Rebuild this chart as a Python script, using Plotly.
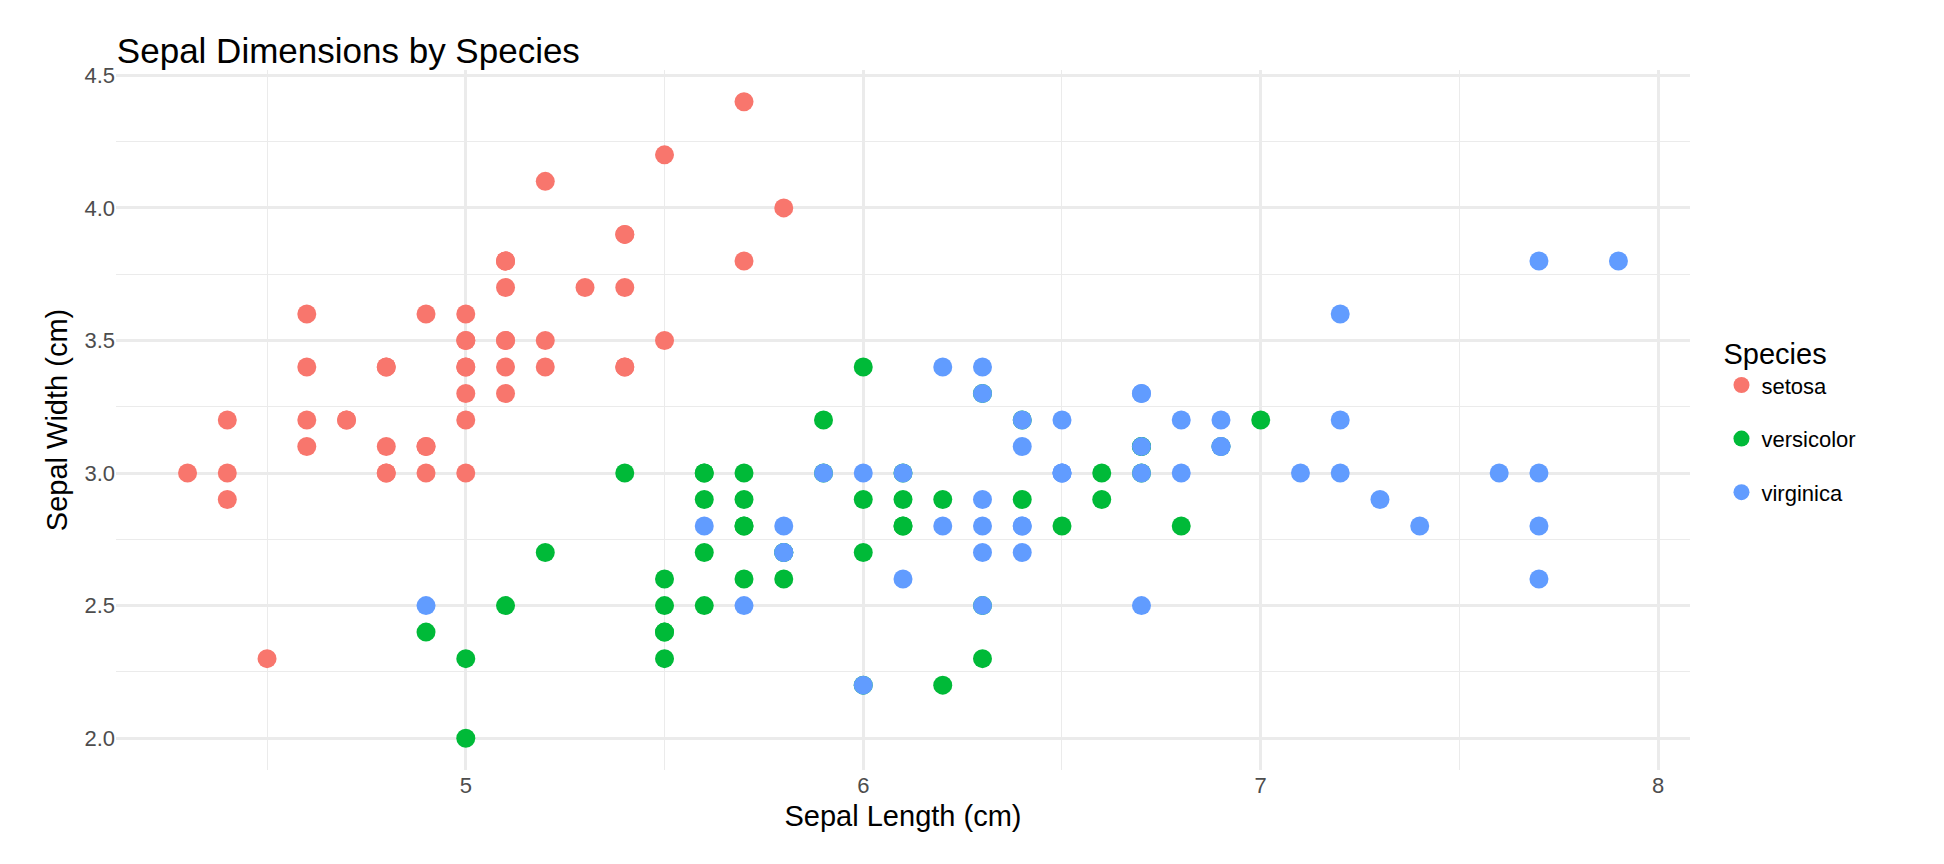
import plotly.graph_objects as go

species = ["setosa", "versicolor", "virginica"]
colors = ["#F8766D", "#00BA38", "#619CFF"]

setosa_len = [5.1,4.9,4.7,4.6,5.0,5.4,4.6,5.0,4.4,4.9,5.4,4.8,4.8,4.3,5.8,5.7,5.4,5.1,5.7,5.1,5.4,5.1,4.6,5.1,4.8,5.0,5.0,5.2,5.2,4.7,4.8,5.4,5.2,5.5,4.9,5.0,5.5,4.9,4.4,5.1,5.0,4.5,4.4,5.0,5.1,4.8,5.1,4.6,5.3,5.0]
setosa_wid = [3.5,3.0,3.2,3.1,3.6,3.9,3.4,3.4,2.9,3.1,3.7,3.4,3.0,3.0,4.0,4.4,3.9,3.5,3.8,3.8,3.4,3.7,3.6,3.3,3.4,3.0,3.4,3.5,3.4,3.2,3.1,3.4,4.1,4.2,3.1,3.2,3.5,3.6,3.0,3.4,3.5,2.3,3.2,3.5,3.8,3.0,3.8,3.2,3.7,3.3]
versi_len = [7.0,6.4,6.9,5.5,6.5,5.7,6.3,4.9,6.6,5.2,5.0,5.9,6.0,6.1,5.6,6.7,5.6,5.8,6.2,5.6,5.9,6.1,6.3,6.1,6.4,6.6,6.8,6.7,6.0,5.7,5.5,5.5,5.8,6.0,5.4,6.0,6.7,6.3,5.6,5.5,5.5,6.1,5.8,5.0,5.6,5.7,5.7,6.2,5.1,5.7]
versi_wid = [3.2,3.2,3.1,2.3,2.8,2.8,3.3,2.4,2.9,2.7,2.0,3.0,2.2,2.9,2.9,3.1,3.0,2.7,2.2,2.5,3.2,2.8,2.5,2.8,2.9,3.0,2.8,3.0,2.9,2.6,2.4,2.4,2.7,2.7,3.0,3.4,3.1,2.3,3.0,2.5,2.6,3.0,2.6,2.3,2.7,3.0,2.9,2.9,2.5,2.8]
virg_len = [6.3,5.8,7.1,6.3,6.5,7.6,4.9,7.3,6.7,7.2,6.5,6.4,6.8,5.7,5.8,6.4,6.5,7.7,7.7,6.0,6.9,5.6,7.7,6.3,6.7,7.2,6.2,6.1,6.4,7.2,7.4,7.9,6.4,6.3,6.1,7.7,6.3,6.4,6.0,6.9,6.7,6.9,5.8,6.8,6.7,6.7,6.3,6.5,6.2,5.9]
virg_wid = [3.3,2.7,3.0,2.9,3.0,3.0,2.5,2.9,2.5,3.6,3.2,2.7,3.0,2.5,2.8,3.2,3.0,3.8,2.6,2.2,3.2,2.8,2.8,2.7,3.3,3.2,2.8,3.0,2.8,3.0,2.8,3.8,2.8,2.8,2.6,3.0,3.4,3.1,3.0,3.1,3.1,3.1,2.7,3.2,3.3,3.0,2.5,3.0,3.4,3.0]

lengths = [setosa_len, versi_len, virg_len]
widths = [setosa_wid, versi_wid, virg_wid]

fig = go.Figure()
for name, col, xs, ys in zip(species, colors, lengths, widths):
    fig.add_trace(go.Scatter(x=xs, y=ys, mode="markers", name=name, legendgroup=name,
                             marker=dict(color=col, size=19, line=dict(width=0))))

grid = "#EBEBEB"
fig.update_layout(
    width=1944, height=864,
    paper_bgcolor="white", plot_bgcolor="white",
    font=dict(family="Liberation Sans, Arial", color="#000000"),
    title=dict(text="Sepal Dimensions by Species", x=0.056, xanchor="left", y=0.965,
               font=dict(size=35)),
    margin=dict(l=108, r=262, t=62, b=102),
    legend=dict(title=dict(text="Species", font=dict(size=29)), font=dict(size=22),
                x=1.02, y=0.5, yanchor="middle", traceorder="grouped", tracegroupgap=22,
                itemsizing="trace"),
    xaxis=dict(title=dict(text="Sepal Length (cm)", font=dict(size=29), standoff=8),
               range=[4.12, 8.08], tickvals=[5, 6, 7, 8], showline=False, zeroline=False,
               gridcolor=grid, gridwidth=2.5, ticks="", tickfont=dict(size=22, color="#4D4D4D"),
               minor=dict(tickvals=[4.5, 5.5, 6.5, 7.5], showgrid=True, gridcolor=grid, gridwidth=1.2)),
    yaxis=dict(title=dict(text="Sepal Width (cm)", font=dict(size=29), standoff=8),
               range=[1.88, 4.52], tickvals=[2.0, 2.5, 3.0, 3.5, 4.0, 4.5],
               ticktext=["2.0", "2.5", "3.0", "3.5", "4.0", "4.5"], showline=False, zeroline=False,
               gridcolor=grid, gridwidth=2.5, ticks="", tickfont=dict(size=22, color="#4D4D4D"),
               minor=dict(tickvals=[2.25, 2.75, 3.25, 3.75, 4.25], showgrid=True, gridcolor=grid, gridwidth=1.2)),
)

fig.write_html("out.html")
